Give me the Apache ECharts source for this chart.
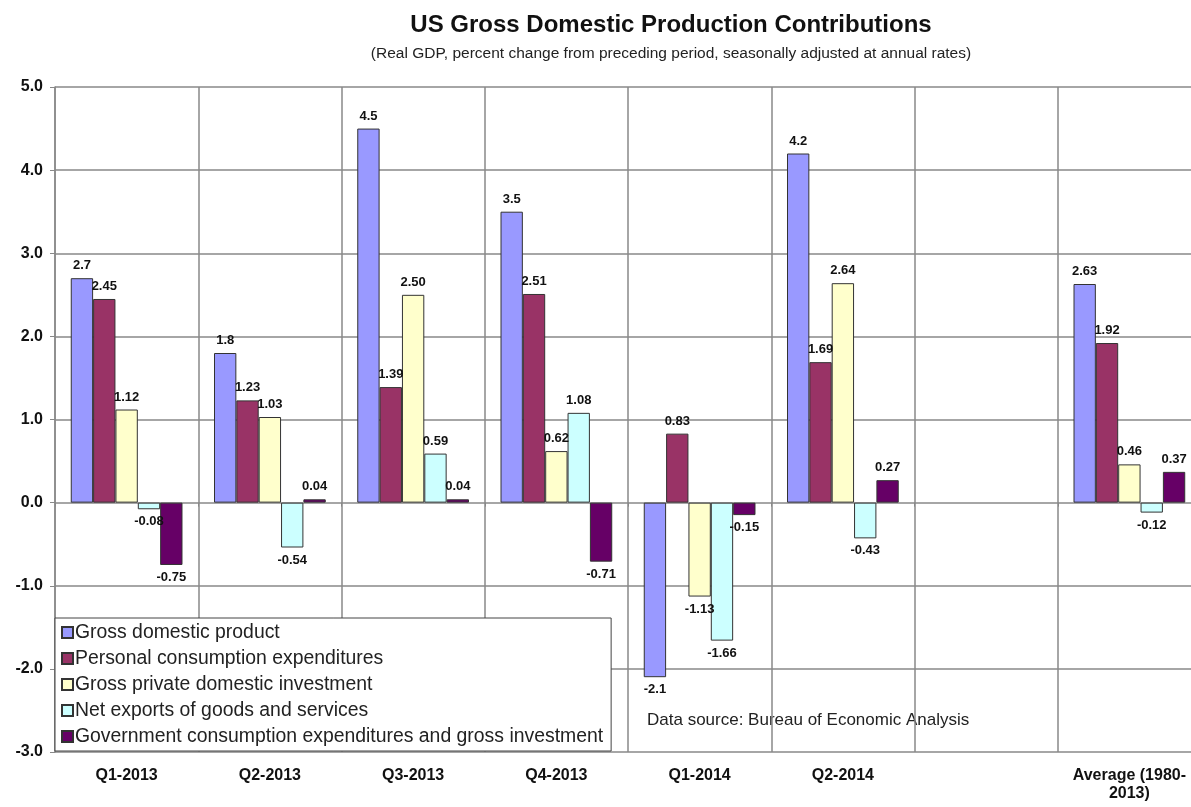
<!DOCTYPE html>
<html>
<head>
<meta charset="utf-8">
<script src="https://cdn.jsdelivr.net/npm/echarts@6/dist/echarts.min.js"></script>
<style>
html,body{margin:0;padding:0;background:#fff;}
#chart{width:1191px;height:807px;}
</style>
</head>
<body>
<div id="chart"></div>
<script>
const categories = ['Q1-2013','Q2-2013','Q3-2013','Q4-2013','Q1-2014','Q2-2014','','Average (1980-\n2013)'];
const seriesNames = ['Gross domestic product','Personal consumption expenditures','Gross private domestic investment','Net exports of goods and services','Government consumption expenditures and gross investment'];
const gdp  = [2.7, 1.8, 4.5, 3.5, -2.1, 4.2, null, 2.63];
const pce  = [2.45, 1.23, 1.39, 2.51, 0.83, 1.69, null, 1.92];
const gpdi = [1.12, 1.03, 2.50, 0.62, -1.13, 2.64, null, 0.46];
const netx = [-0.08, -0.54, 0.59, 1.08, -1.66, -0.43, null, -0.12];
const gov  = [-0.75, 0.04, 0.04, -0.71, -0.15, 0.27, null, 0.37];
const yTicks = [-3,-2,-1,0,1,2,3,4,5];

const colors = ['#9999FF','#993366','#FFFFCC','#CCFFFF','#660066'];
const allData = [gdp, pce, gpdi, netx, gov];
const FONT = 'Liberation Sans, Arial';

function mk(i){
  return {
    name: seriesNames[i],
    type: 'bar',
    barGap: '0%',
    barCategoryGap: '22%',
    itemStyle: {color: colors[i], borderColor: '#333', borderWidth: 1},
    label: {
      show: true,
      fontFamily: FONT,
      fontWeight: 'bold',
      fontSize: 13,
      color: '#111',
      distance: 6,
      formatter: p => p.value == null ? '' : (i === 0 ? String(p.value) : p.value.toFixed(2))
    },
    data: allData[i].map(v => v == null ? null : {value: v, label: {position: v < 0 ? 'bottom' : 'top'}})
  };
}

const chart = echarts.init(document.getElementById('chart'), null, {renderer:'canvas'});
chart.setOption({
  animation: false,
  backgroundColor: '#fff',
  color: colors,
  title: [{
    text: 'US Gross Domestic Production Contributions',
    left: 666, top: 8, textAlign: 'center',
    textStyle: {fontFamily: FONT, fontWeight: 'bold', fontSize: 24, color: '#111'}
  },{
    text: '(Real GDP, percent change from preceding period, seasonally adjusted at annual rates)',
    left: 666, top: 41, textAlign: 'center',
    textStyle: {fontFamily: FONT, fontWeight: 'normal', fontSize: 15.5, color: '#222'}
  }],
  grid: {left: 55, top: 87, bottom: 55, right: -10, outerBoundsMode: 'none', containLabel: false},
  legend: {
    orient: 'vertical',
    left: 55, top: 618,
    itemWidth: 11, itemHeight: 11, itemGap: 7,
    padding: [5, 8, 5, 6],
    backgroundColor: '#fff',
    borderColor: '#444', borderWidth: 1,
    icon: 'rect',
    textStyle: {fontFamily: FONT, fontSize: 19.4, color: '#222', padding: [0,0,0,-3]},
    data: seriesNames
  },
  xAxis: {
    type: 'category',
    data: categories,
    axisLine: {show: false},
    axisTick: {show: true, interval: 0, length: 4, lineStyle: {color: '#888'}},
    axisLabel: {interval: 0, fontFamily: FONT, fontWeight: 'bold', fontSize: 16, color: '#111', margin: 15, lineHeight: 18},
    splitLine: {show: true, interval: 0, lineStyle: {color: '#888', width: 1.5}}
  },
  yAxis: {
    type: 'value',
    min: yTicks[0], max: yTicks[yTicks.length-1], interval: 1,
    axisLine: {show: true, lineStyle: {color: '#888', width: 1.5}},
    axisTick: {show: true, length: 5, lineStyle: {color: '#888'}},
    axisLabel: {fontFamily: FONT, fontWeight: 'bold', fontSize: 16, color: '#111', margin: 12, formatter: v => v.toFixed(1)},
    splitLine: {show: true, lineStyle: {color: '#888', width: 1.5}}
  },
  graphic: [{
    type: 'text', left: 647, top: 712,
    style: {text: 'Data source: Bureau of Economic Analysis', fontFamily: FONT, fontSize: 17, fill: '#222'}
  }],
  series: [0,1,2,3,4].map(mk)
});
</script>
</body>
</html>
